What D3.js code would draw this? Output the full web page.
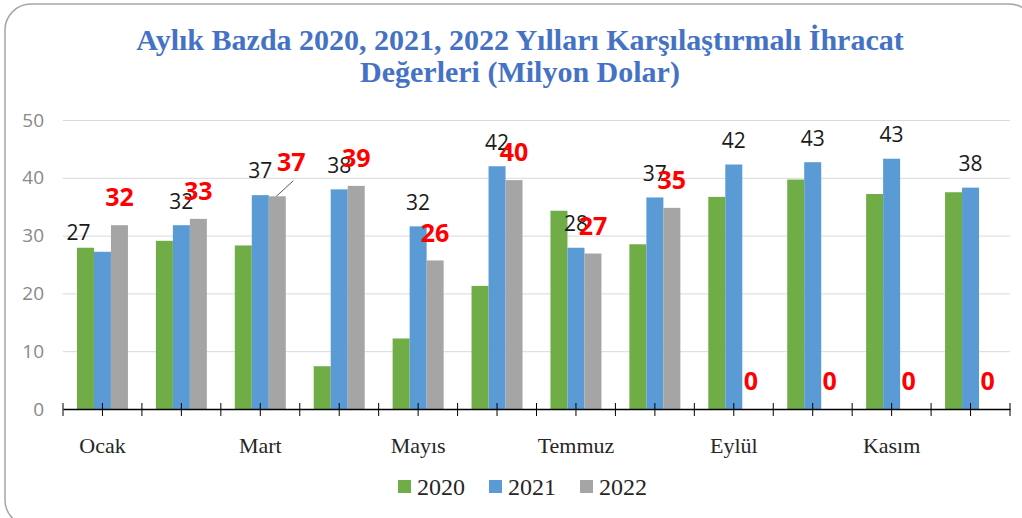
<!DOCTYPE html>
<html>
<head>
<meta charset="utf-8">
<script src="https://cdn.jsdelivr.net/npm/d3@7"></script>
<style>
    body { margin: 0; background: #fff; }
    .gridline line { stroke: #d9d9d9; }
    .yaxis text { fill: #898989; font-family: "Open Sans", sans-serif; font-size: 19px; }
    .xaxis text { fill: #262626; font-family: "Liberation Serif", serif; font-size: 22px; }
    .lblBlack { fill: #1a1a1a; font-family: "Open Sans", sans-serif; font-size: 21px; }
    .lblRed { fill: #ff0000; font-family: "Open Sans", sans-serif; font-size: 25px; font-weight: bold; }
    .title { fill: #4472c4; font-family: "Liberation Serif", serif; font-size: 30px; font-weight: bold; }
    .legendText { fill: #262626; font-family: "Liberation Serif", serif; font-size: 24px; }
</style>
</head>
<body>
<div id="chart"></div>
<script>
// data (milyon dolar)
var months = ["Ocak", "Şubat", "Mart", "Nisan", "Mayıs", "Haziran", "Temmuz", "Ağustos", "Eylül", "Ekim", "Kasım", "Aralık"];
var years = ["2020", "2021", "2022"];
var values2020 = [27.9, 29.1, 28.3, 7.4, 12.2, 21.3, 34.3, 28.5, 36.7, 39.7, 37.2, 37.5];
var values2021 = [27.2, 31.8, 37.0, 38.0, 31.6, 42.0, 27.9, 36.6, 42.3, 42.7, 43.3, 38.3];
var values2022 = [31.8, 32.9, 36.8, 38.6, 25.7, 39.6, 26.9, 34.8, 0, 0, 0, 0];
var yTicks = [0, 10, 20, 30, 40, 50];
var titleLines = ["Aylık Bazda 2020, 2021, 2022 Yılları Karşılaştırmalı İhracat", "Değerleri (Milyon Dolar)"];

var width = 1022, height = 518;
var margin = { top: 120, right: 12, bottom: 109, left: 63 };
var plotW = width - margin.left - margin.right;
var plotH = height - margin.top - margin.bottom;

var colors = d3.scaleOrdinal().domain(years).range(["#70ad47", "#5b9bd5", "#a5a5a5"]);
var seriesValues = [values2020, values2021, values2022];

var svg = d3.select("#chart").append("svg")
    .attr("width", width)
    .attr("height", height);

// card border (runs off the right/bottom edge like the screenshot)
svg.append("rect")
    .attr("x", 5).attr("y", 4)
    .attr("width", 1030).attr("height", 522)
    .attr("rx", 26)
    .attr("fill", "none")
    .attr("stroke", "#a6a6a6")
    .attr("stroke-width", 1.5);

//title
svg.selectAll(".title")
    .data(titleLines)
    .enter()
    .append("text")
    .attr("class", "title")
    .attr("x", 520)
    .attr("y", function (d, i) { return 50 + i * 32; })
    .attr("text-anchor", "middle")
    .text(function (d) { return d; });

var g = svg.append("g").attr("transform", "translate(" + margin.left + "," + margin.top + ")");

var x = d3.scaleBand().domain(months).range([0, plotW]).paddingInner(0.354).paddingOuter(0.177);
var xInner = d3.scaleBand().domain(years).range([0, x.bandwidth()]);
var y = d3.scaleLinear().domain([0, 50]).range([plotH, 0]);

// gridlines + y labels
var yAxis = g.append("g")
    .attr("class", "yaxis gridline")
    .call(d3.axisLeft(y).tickValues(yTicks).tickSize(-plotW).tickPadding(19));
yAxis.select(".domain").remove();

// bars
var groups = g.selectAll(".month")
    .data(months)
    .enter()
    .append("g")
    .attr("class", "month")
    .attr("transform", function (d) { return "translate(" + x(d) + ",0)"; });

groups.selectAll("rect")
    .data(function (d, i) {
        return years.map(function (yr, j) { return { year: yr, value: seriesValues[j][i] }; });
    })
    .enter()
    .append("rect")
    .attr("x", function (d) { return xInner(d.year); })
    .attr("width", xInner.bandwidth())
    .attr("y", function (d) { return y(d.value); })
    .attr("height", function (d) { return plotH - y(d.value); })
    .attr("fill", function (d) { return colors(d.year); });

// x axis, ticks at the band centres and at the band edges
var xAxis = g.append("g")
    .attr("class", "xaxis")
    .attr("transform", "translate(0," + plotH + ")")
    .call(d3.axisBottom(x)
        .tickFormat(function (d, i) { return i % 2 == 0 ? d : ""; })
        .tickSizeOuter(0)
        .tickPadding(22));
xAxis.select(".domain").attr("stroke", "#000").attr("stroke-width", 1.3);
xAxis.selectAll(".tick line").attr("y1", -6).attr("y2", 7).attr("stroke", "#000");

var edges = months.map(function (m) { return x(m) + x.bandwidth() / 2 - x.step() / 2; });
edges.push(plotW);
xAxis.selectAll(".edge")
    .data(edges)
    .enter()
    .append("line")
    .attr("class", "edge")
    .attr("x1", function (d) { return d; })
    .attr("x2", function (d) { return d; })
    .attr("y1", -6).attr("y2", 7)
    .attr("stroke", "#000");

var fmt = d3.format(".0f");

// hand-moved labels in the original
var nudge2021 = { 0: [-24, 5] };
var nudge2022 = { 2: [14, -7] };

// 2021 labels (black)
g.selectAll(".lblBlack")
    .data(values2021)
    .enter()
    .append("text")
    .attr("class", "lblBlack")
    .attr("text-anchor", "middle")
    .attr("dy", "0.35em")
    .attr("x", function (d, i) {
        var n = nudge2021[i] || [0, 0];
        return x(months[i]) + xInner("2021") + xInner.bandwidth() / 2 + n[0];
    })
    .attr("y", function (d, i) {
        var n = nudge2021[i] || [0, 0];
        return y(d) - 24 + n[1];
    })
    .text(function (d) { return fmt(d); });

// 2022 labels (red bold)
g.selectAll(".lblRed")
    .data(values2022)
    .enter()
    .append("text")
    .attr("class", "lblRed")
    .attr("text-anchor", "middle")
    .attr("dy", "0.35em")
    .attr("x", function (d, i) {
        var n = nudge2022[i] || [0, 0];
        return x(months[i]) + xInner("2022") + xInner.bandwidth() / 2 + n[0];
    })
    .attr("y", function (d, i) {
        var n = nudge2022[i] || [0, 0];
        return y(d) - 27.5 + n[1];
    })
    .text(function (d) { return fmt(d); });

// leader line for the moved Mart label
Object.keys(nudge2022).forEach(function (k) {
    var i = +k;
    var cx = x(months[i]) + xInner("2022") + xInner.bandwidth() / 2;
    g.append("line")
        .attr("x1", cx + nudge2022[i][0] + 2)
        .attr("y1", y(values2022[i]) - 27.5 + nudge2022[i][1] + 19)
        .attr("x2", cx - 1)
        .attr("y2", y(values2022[i]))
        .attr("stroke", "#595959")
        .attr("stroke-width", 1);
});

// legend
var legend = svg.append("g").attr("transform", "translate(398,480)");
var items = legend.selectAll(".legendItem")
    .data(years)
    .enter()
    .append("g")
    .attr("class", "legendItem")
    .attr("transform", function (d, i) { return "translate(" + (i * 91) + ",0)"; });
items.append("rect")
    .attr("width", 13).attr("height", 13)
    .attr("fill", function (d) { return colors(d); });
items.append("text")
    .attr("class", "legendText")
    .attr("x", 19)
    .attr("y", 15)
    .text(function (d) { return d; });
</script>
</body>
</html>
